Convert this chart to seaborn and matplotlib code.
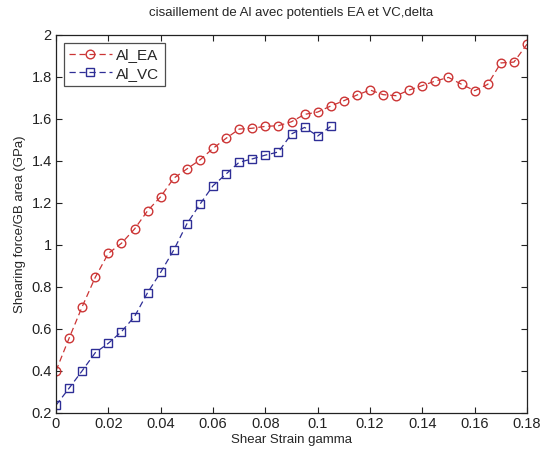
import matplotlib
matplotlib.use("Agg")
import matplotlib.pyplot as plt
import seaborn as sns
import pandas as pd

# Shear strain (gamma) sampled every 0.005
strain_ea = [0.000, 0.005, 0.010, 0.015, 0.020, 0.025, 0.030, 0.035, 0.040, 0.045,
             0.050, 0.055, 0.060, 0.065, 0.070, 0.075, 0.080, 0.085, 0.090, 0.095,
             0.100, 0.105, 0.110, 0.115, 0.120, 0.125, 0.130, 0.135, 0.140, 0.145,
             0.150, 0.155, 0.160, 0.165, 0.170, 0.175, 0.180]
force_ea = [0.401, 0.556, 0.706, 0.846, 0.960, 1.008, 1.076, 1.163, 1.230, 1.318,
            1.362, 1.405, 1.460, 1.508, 1.552, 1.556, 1.565, 1.568, 1.587, 1.622,
            1.633, 1.662, 1.687, 1.714, 1.738, 1.716, 1.711, 1.738, 1.759, 1.781,
            1.798, 1.765, 1.735, 1.765, 1.867, 1.871, 1.956]

strain_vc = [0.000, 0.005, 0.010, 0.015, 0.020, 0.025, 0.030, 0.035, 0.040, 0.045,
             0.050, 0.055, 0.060, 0.065, 0.070, 0.075, 0.080, 0.085, 0.090, 0.095,
             0.100, 0.105]
force_vc = [0.237, 0.318, 0.401, 0.487, 0.532, 0.587, 0.659, 0.773, 0.870, 0.976,
            1.100, 1.194, 1.282, 1.338, 1.394, 1.410, 1.428, 1.443, 1.529, 1.560,
            1.519, 1.565]

series_names = ["Al_EA", "Al_VC"]
x_ticks = [0, 0.02, 0.04, 0.06, 0.08, 0.1, 0.12, 0.14, 0.16, 0.18]
x_tick_labels = ["0", "0.02", "0.04", "0.06", "0.08", "0.1", "0.12", "0.14", "0.16", "0.18"]
y_ticks = [0.2, 0.4, 0.6, 0.8, 1.0, 1.2, 1.4, 1.6, 1.8, 2.0]
y_tick_labels = ["0.2", "0.4", "0.6", "0.8", "1", "1.2", "1.4", "1.6", "1.8", "2"]

df_ea = pd.DataFrame({"gamma": strain_ea, "force": force_ea})
df_vc = pd.DataFrame({"gamma": strain_vc, "force": force_vc})

sns.set_style("white")
plt.rcParams["font.family"] = ["Liberation Sans", "DejaVu Sans"]

fig = plt.figure(figsize=(5.42, 4.50), dpi=100)
ax = fig.add_axes([56 / 542, 1 - 413 / 450, (527 - 56) / 542, (413 - 35) / 450])

red = "#cc3535"
blue = "#2e2e96"
common = dict(ax=ax, x="gamma", y="force", linestyle=(0, (5, 3)), linewidth=0.9,
              markersize=6.2, markerfacecolor="none", markeredgewidth=1.0)
sns.lineplot(data=df_ea, color=red, marker="o", markeredgecolor=red,
             label=series_names[0], **common)
sns.lineplot(data=df_vc, color=blue, marker="s", markeredgecolor=blue,
             label=series_names[1], **common)

ax.set_xlim(0, 0.18)
ax.set_ylim(0.2, 2.0)
ax.set_xticks(x_ticks)
ax.set_xticklabels(x_tick_labels)
ax.set_yticks(y_ticks)
ax.set_yticklabels(y_tick_labels)
ax.tick_params(direction="in", length=4, width=0.8, labelsize=10.5, colors="#222222",
               top=True, right=True, bottom=True, left=True, pad=3)
for s in ax.spines.values():
    s.set_visible(True)
    s.set_color("#222222")
    s.set_linewidth(0.9)

ax.set_xlabel("Shear Strain gamma", fontsize=9.5, labelpad=2)
ax.set_ylabel("Shearing force/GB area (GPa)", fontsize=9.5, labelpad=4)
ax.set_title("cisaillement de Al avec potentiels EA et VC,delta", fontsize=9.5, pad=14)

leg = ax.legend(loc="upper left", frameon=True, fancybox=False, fontsize=11,
                borderaxespad=0.5, handlelength=2.8, handletextpad=0.3,
                borderpad=0.35, labelspacing=0.3)
leg.get_frame().set_edgecolor("#222222")
leg.get_frame().set_linewidth(0.9)

fig.savefig("out.png", dpi=100, facecolor="white")
